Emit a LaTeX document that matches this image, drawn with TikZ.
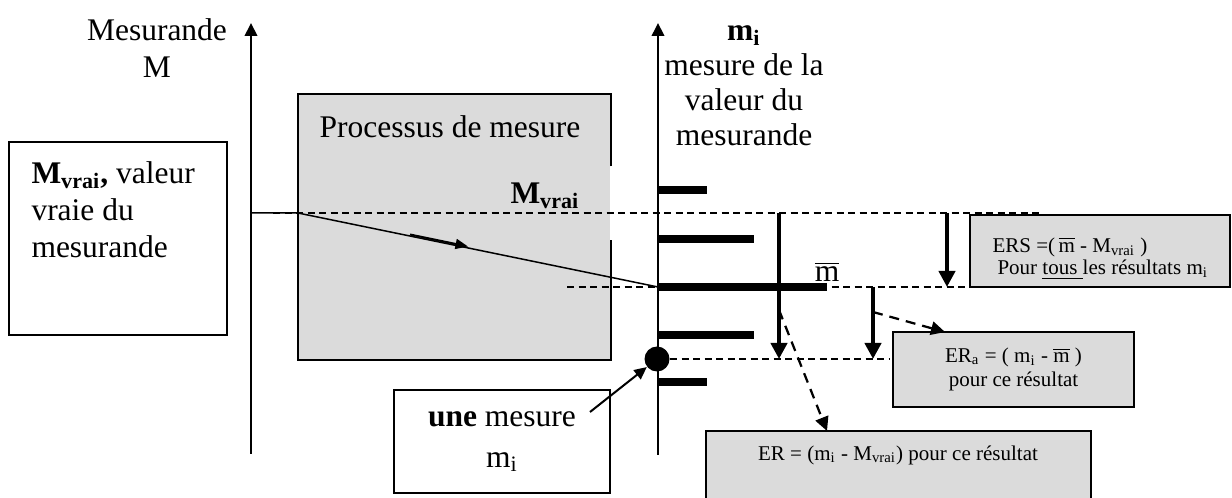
\documentclass[tikz,border=0pt]{standalone}
\usepackage{fontspec}
\setmainfont{Liberation Serif}
\usetikzlibrary{arrows.meta}
\definecolor{boxgray}{gray}{0.86}
\newcommand{\drawbox}{\node[draw,rectangle,line width=0.8pt,inner sep=0pt]}
\newcommand{\drawgray}{\node[draw,rectangle,line width=0.8pt,fill=boxgray,inner sep=0pt]}
\newcommand{\drawdot}{\node[circle,fill,inner sep=0pt,minimum size=10pt]}
\newcommand{\normaltxt}{\fontsize{12.6}{14}\selectfont}
\newcommand{\smalltxt}{\fontsize{8.4}{9.6}\selectfont}
\newcommand{\vrai}{\textsubscript{vrai}}
\newcommand{\mbar}{\ensuremath{\overline{\mbox{m}}}}

\begin{document}
\begin{tikzpicture}[x=0.4pt, y=-0.4pt, every node/.style={font=\normaltxt},
  axe/.style={line width=0.8pt, -{Triangle[length=5.2pt,width=5pt]}},
  barre/.style={line width=3.2pt},
  pointille/.style={line width=0.6pt, dash pattern=on 2.8pt off 1.8pt},
  fleche/.style={line width=1.6pt, -{Triangle[length=6.4pt,width=6.4pt]}},
  flechept/.style={line width=0.9pt, dash pattern=on 4pt off 2.8pt, -{Triangle[length=5.6pt,width=5.4pt]}}]
\useasboundingbox (0,0) rectangle (1232,498);
%process box, right border left open
\node[fill=boxgray, minimum width=124.8pt, minimum height=105.6pt, inner sep=0pt] (procBox) at (454,227) {};
\draw[line width=0.8pt] ([yshift=-28.8pt]procBox.north east) -- (procBox.north east) -- (procBox.north west)
  -- (procBox.south west) -- (procBox.south east) -- ([yshift=47.6pt]procBox.south east);
\node (procTxt) at (450,127) {Processus de mesure};

%boxes
\drawbox[minimum width=87.2pt, minimum height=77.2pt] (vraiBox) at (118,238.5) {};
\node[anchor=north west, align=left, inner sep=0pt, font=\fontsize{12.6}{14.8}\selectfont] (vraiTxt) at (31,161)
  {\textbf{M\vrai,} valeur\\vraie du\\mesurande};
\drawbox[minimum width=86.4pt, minimum height=41.2pt, align=center, font=\fontsize{12.6}{16.4}\selectfont] (uneBox) at (502,441.5)
  {\textbf{une} mesure\\m\textsubscript{i}};
\drawgray[minimum width=104pt, minimum height=28.8pt] (ersBox) at (1100,251) {};
\node[anchor=north west, align=left, inner sep=0pt, font=\fontsize{8.4}{8.8}\selectfont] (ersTxt) at (992,237)
  {ERS =(\,\mbar{} - M\vrai{} )\\\hspace*{2pt}Pour \underline{tous }les résultats m\textsubscript{i}};
\drawgray[minimum width=96.4pt, minimum height=30pt, align=center, font=\fontsize{8.4}{9.8}\selectfont] (eraBox) at (1013.5,369.5)
  {ER\textsubscript{a} = (\ m\textsubscript{i} - \mbar{} )\\pour ce résultat};
\drawgray[minimum width=154pt, minimum height=44pt] (erBox) at (898.5,486) {};
\node[font=\smalltxt] (erTxt) at (898,455) {ER = (m\textsubscript{i} - M\vrai) pour ce résultat};

%axes and labels
\coordinate (mBot) at (251,454);
\coordinate (mTop) at (251,23);
\coordinate (miBot) at (658,455);
\coordinate (miTop) at (658,23);
\draw[axe] (mBot) to (mTop);
\draw[axe] (miBot) to (miTop);
\node[align=center, font=\fontsize{12.6}{14.8}\selectfont] (mesLab) at (157,48) {Mesurande\\M};
\node[align=center] (miLab) at (744,86) {\textbf{m\textsubscript{i}}\\mesure de la\\valeur du\\mesurande};
\node[anchor=base west, inner sep=0pt] (mvraiLab) at (510,204) {\textbf{M\vrai}};
\node[anchor=base, inner sep=0pt] (mbarLab) at (827,282) {\mbar};

%the measurements on the mi axis
\draw[barre] (658,190) -- (707,190);
\draw[barre] (658,239) -- (754,239);
\draw[barre] (658,287) -- (827,287);
\draw[barre] (658,335) -- (754,335);
\draw[barre] (658,382) -- (707,382);
\drawdot (dot) at (657,359) {};

%levels
\coordinate (vraiStart) at (251,213);
\coordinate (vraiKnee) at (298,213);
\coordinate (mbarPt) at (658,287);
\coordinate (vraiDashA) at (273,213);
\coordinate (vraiDashB) at (1040,213);
\coordinate (mbarDashA) at (567,287);
\coordinate (mbarDashB) at (1040,287);
\coordinate (miDashB) at (890,359);
\draw[pointille] (vraiDashA) to (vraiDashB);
\draw[pointille] (mbarDashA) to (mbarDashB);
\draw[pointille] (dot) to (miDashB);
\draw[line width=0.6pt] (vraiStart) -- (vraiKnee) -- (mbarPt);
\coordinate (midA) at (410,234.5);
\coordinate (midB) at (468,246.5);
\draw[line width=0.8pt, -{Triangle[length=5pt,width=4pt]}] (midA) to (midB);

%errors
\coordinate (erTop) at (779,213);
\coordinate (erBot) at (779,359);
\coordinate (eraTop) at (873,287);
\coordinate (eraBot) at (873,359);
\coordinate (ersTop) at (947,213);
\coordinate (ersBot) at (947,287);
\draw[fleche] (erTop) to (erBot);
\draw[fleche] (eraTop) to (eraBot);
\draw[fleche] (ersTop) to (ersBot);
\coordinate (eraFrom) at (873,312);
\coordinate (eraTip) at (945,332);
\coordinate (erFrom) at (779,310);
\coordinate (erTip) at (827,431);
\draw[flechept] (eraFrom) to (eraTip);
\draw[flechept] (erFrom) to (erTip);

\coordinate (uneFrom) at (590,412);
\draw[line width=0.8pt, -{Triangle[length=5pt,width=4.6pt]}] (uneFrom) to (dot);
\end{tikzpicture}
\end{document}
